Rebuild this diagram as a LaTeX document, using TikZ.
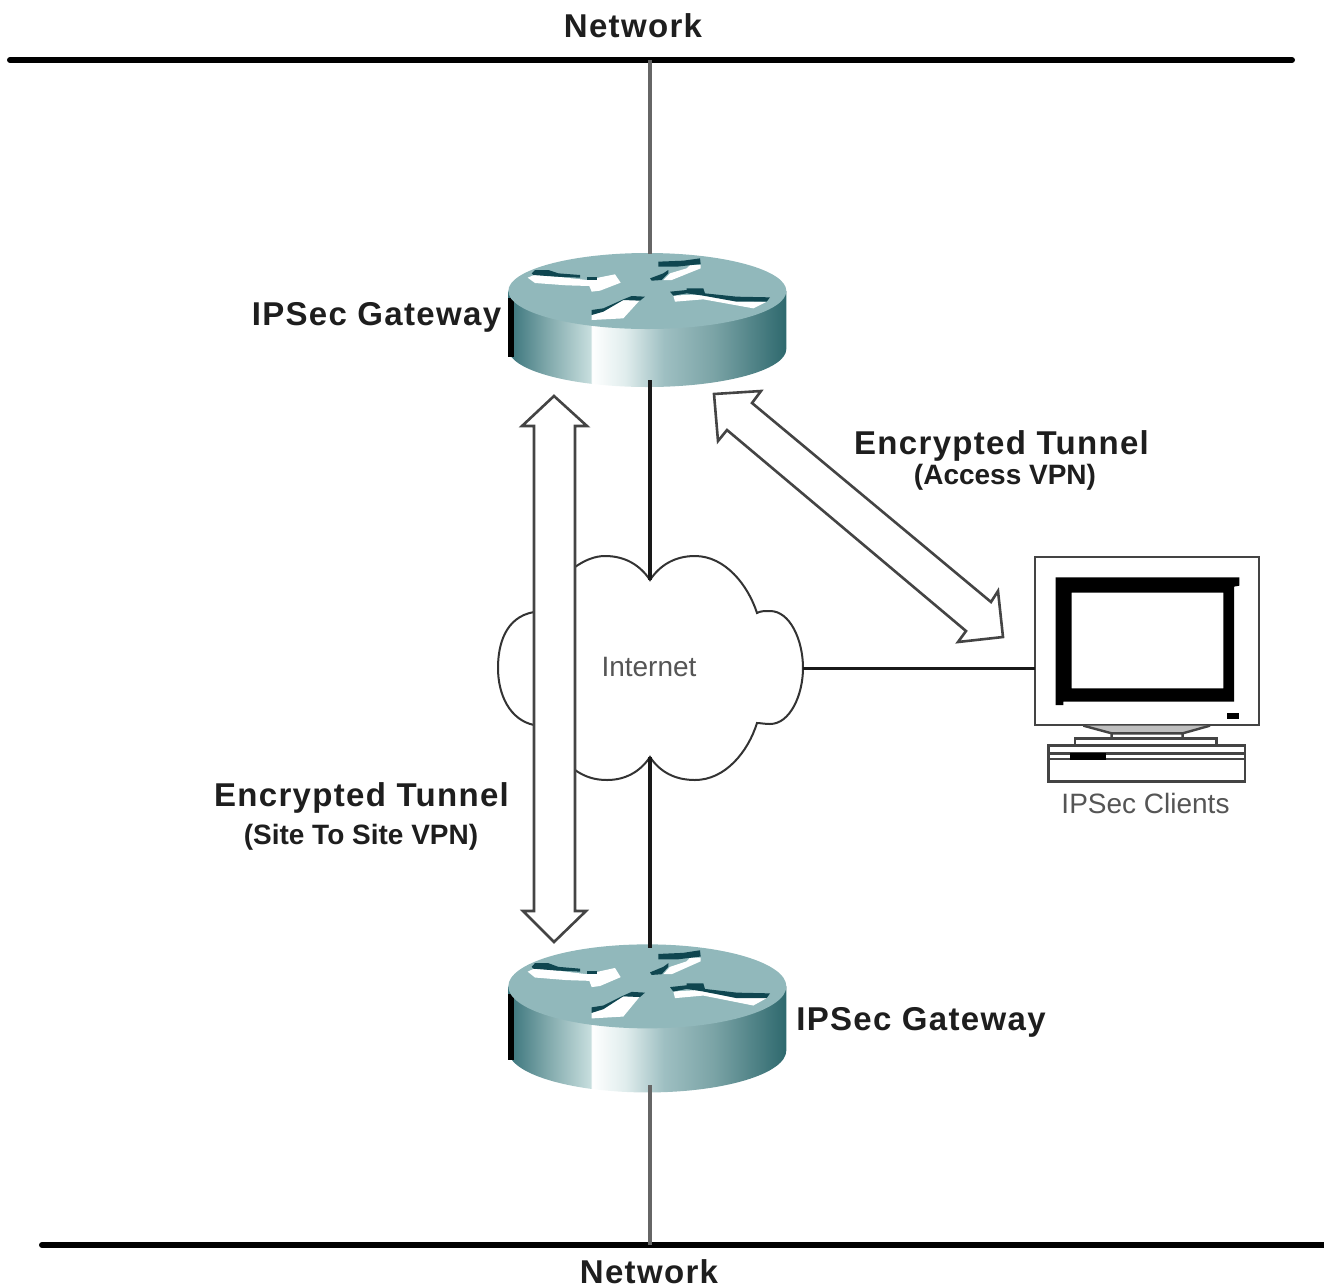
\documentclass[tikz,border=0pt]{standalone}
\usepackage{fontspec}
\setmainfont{Liberation Sans}
\usetikzlibrary{calc}
\definecolor{rface}{HTML}{91B8BB}
\definecolor{rdark}{HTML}{0F4650}
\definecolor{lgray}{HTML}{666666}
\definecolor{tgray}{HTML}{555555}
\definecolor{tdark}{HTML}{1E1E1E}
\definecolor{mgray}{HTML}{444444}
\pgfdeclarehorizontalshading{routerbody}{100bp}{
  color(0bp)=(white!30!black);
  rgb(25bp)=(0.22,0.45,0.48);
  rgb(32bp)=(0.50,0.66,0.67);
  rgb(39.8bp)=(0.78,0.87,0.87);
  rgb(40bp)=(1,1,1);
  rgb(46bp)=(0.88,0.93,0.93);
  rgb(53bp)=(0.62,0.75,0.76);
  rgb(62bp)=(0.48,0.64,0.65);
  rgb(75bp)=(0.18,0.41,0.43);
  rgb(100bp)=(0.18,0.41,0.43)}
\newcommand{\gatewayrouter}[2]{%
  \begin{scope}[shift={(490,#1)},xscale=1/3,yscale=#2/3]
    \path[shading=routerbody] (55,153) -- (55,327)
      .. controls (55,390) and (242,441) .. (472,441)
      .. controls (702,441) and (889,390) .. (889,327) -- (889,153) -- cycle;
    \fill[black] (55,175) rectangle (72,352);
    \fill[rface] (55,153) .. controls (55,90) and (242,39) .. (472,39)
      .. controls (702,39) and (889,90) .. (889,153)
      .. controls (889,216) and (702,267) .. (472,267)
      .. controls (242,267) and (55,216) .. (55,153) -- cycle;
    % north-west arrow
    \fill[white] (113,113) -- (135,104) -- (200,110) -- (290,120) -- (375,103) -- (392,128) -- (330,152) -- (305,155) -- (298,138) -- (230,136) -- (135,129) -- cycle;
    \fill[rdark] (125,100) -- (135,90) -- (175,90) -- (205,100) -- (270,105) -- (270,113) -- (200,110) -- (130,105) -- cycle;
    \fill[rdark] (290,112) -- (322,112) -- (322,120) -- (290,120) -- cycle;
    % south-west arrow
    \fill[white] (305,225) -- (400,180) -- (450,180) -- (400,235) -- (305,240) -- cycle;
    \fill[rdark] (305,210) -- (340,205) -- (400,178) -- (425,168) -- (465,170) -- (450,182) -- (400,180) -- (340,215) -- (305,225) -- cycle;
    % north-east arrow
    \fill[white] (600,75) -- (632,75) -- (632,85) -- (545,120) -- (520,120) -- (540,100) -- (590,85) -- cycle;
    \fill[rdark] (505,65) -- (580,62) -- (630,55) -- (632,72) -- (560,80) -- (505,80) -- cycle;
    \fill[rdark] (480,115) -- (520,100) -- (535,90) -- (535,100) -- (515,120) -- (485,122) -- cycle;
    % south-east arrow
    \fill[white] (550,167) -- (640,162) -- (740,182) -- (830,185) -- (790,205) -- (690,187) -- (640,178) -- (555,185) -- cycle;
    \fill[rdark] (540,155) -- (590,150) -- (590,145) -- (640,145) -- (645,160) -- (740,170) -- (840,172) -- (830,185) -- (740,185) -- (640,167) -- (590,160) -- (550,167) -- cycle;
  \end{scope}}
\tikzset{
  bigbold/.style={inner sep=0pt,text=tdark,font={\fontsize{16.5}{18}\bfseries\addfontfeature{LetterSpace=4}\selectfont}},
  smallbold/.style={inner sep=0pt,text=tdark,font={\fontsize{14}{16}\bfseries\selectfont}},
  plainlabel/.style={inner sep=0pt,text=tgray,font={\fontsize{14}{16}\selectfont}},
  netline/.style={line width=3pt,black,line cap=round},
  greylink/.style={line width=2pt,lgray},
  blacklink/.style={line width=2pt,black!90},
  tunnel/.style={line width=1.3pt,draw=mgray,fill=white,line join=miter},
  routerbox/.style={inner sep=0pt,outer sep=0pt,minimum width=139pt},
  cloudline/.style={line width=1pt,draw=black!80,fill=white},
  pcline/.style={line width=1.2pt,draw=mgray}
}
\begin{document}
\begin{tikzpicture}[x=0.5pt,y=-0.5pt]
\useasboundingbox (0,0) rectangle (1324,1287);
% cloud
\path[cloudline] (534,612) .. controls (505,617) and (498,645) .. (498,668)
  .. controls (498,695) and (510,720) .. (534,725);
\path[cloudline] (575,567) .. controls (585,560) and (595,556) .. (605,556)
  .. controls (625,556) and (640,565) .. (650,580)
  .. controls (660,565) and (675,556) .. (695,556)
  .. controls (725,556) and (748,585) .. (757,613)
  .. controls (760,611) and (765,611) .. (770,611)
  .. controls (790,611) and (803,640) .. (803,668)
  .. controls (803,695) and (790,724) .. (770,724)
  .. controls (765,724) and (760,723) .. (757,723)
  .. controls (748,752) and (725,780) .. (695,780)
  .. controls (675,780) and (660,772) .. (650,757)
  .. controls (640,772) and (625,780) .. (607,780)
  .. controls (595,780) and (585,777) .. (575,770);
% routers
\gatewayrouter{240}{1}
\gatewayrouter{930}{1.105}
\node[routerbox,minimum height=63pt] (gwA) at (650,317) {};
\node[routerbox,minimum height=68.5pt] (gwB) at (650,1016.5) {};
% monitor
\node[draw=mgray,line width=1.2pt,inner sep=0pt,outer sep=0pt,minimum width=112pt,minimum height=84pt,fill=white] (client) at (1147,641) {};
\begin{scope}[shift={(1020,545)},xscale=1/3,yscale=1/3]
  \fill[black,even odd rule] (107,97) -- (658,97) -- (658,122) -- (642,125) -- (642,470) -- (130,470) -- (130,480) -- (107,480) -- cycle
     (155,143) rectangle (610,430);
  \fill[black] (620,505) rectangle (658,522);
  \path[fill=black!25] (190,542) -- (570,542) -- (488,565) -- (275,565) -- cycle;
  \draw[pcline] (190,542) -- (275,565) -- (275,580) (570,542) -- (488,565) -- (488,580) (275,565) -- (488,565);
  \draw[pcline] (165,600) -- (165,580) -- (590,580) -- (590,600);
  \draw[pcline] (85,602) rectangle (675,710);
  \draw[pcline] (85,625) -- (675,625) (85,642) -- (675,642);
  \fill[black] (150,625) rectangle (258,645);
\end{scope}
% connectors
\coordinate (netA1) at (10,60);
\coordinate (netA2) at (1292,60);
\coordinate (netB1) at (42,1245);
\coordinate (netB2) at (1324,1245);
\coordinate (netAtap) at (650,60);
\coordinate (netBtap) at (650,1245);
\coordinate (cloudN) at (650,580);
\coordinate (cloudS) at (650,757);
\coordinate (cloudE) at (803,668);
\draw[netline] (netA1) -- (netA2);
\draw[netline] (netB1) -- (netB2);
\draw[greylink] (netAtap) -- (gwA.north);
\draw[blacklink] (gwA.south) -- (cloudN);
\draw[blacklink] (cloudS) -- (gwB.north);
\draw[greylink] (gwB.south) -- (netBtap);
\draw[line width=1.5pt,black!90] (cloudE) -- (client.west |- cloudE);
% tunnels
\path[tunnel] (554,396) -- (587,426) -- (575,426) -- (575,911) -- (586,911) -- (554,942) -- (523,911) -- (534,911) -- (534,426) -- (522,426) -- cycle;
\path[tunnel] (714,394) -- (761,391) -- (752,403) -- (991,602) -- (998,591) -- (1003,637) -- (958,642) -- (966,631) -- (727,430) -- (718,441) -- cycle;
% labels
\node[bigbold] (n1) at (633,26) {Network};
\node[bigbold] (n2) at (649,1272) {Network};
\node[bigbold] (g1) at (376.5,317) {IPSec Gateway};
\node[bigbold] (g2) at (921,1022) {IPSec Gateway};
\node[bigbold] (t1) at (1001.5,446) {Encrypted Tunnel};
\node[smallbold] (t1b) at (1005,477) {(Access VPN)};
\node[bigbold] (t2) at (361.5,798) {Encrypted Tunnel};
\node[smallbold] (t2b) at (361,837) {(Site To Site VPN)};
\node[plainlabel] (inet) at (649,667) {Internet};
\node[plainlabel] (cl) at (1145.5,803) {IPSec Clients};
\end{tikzpicture}
\end{document}
